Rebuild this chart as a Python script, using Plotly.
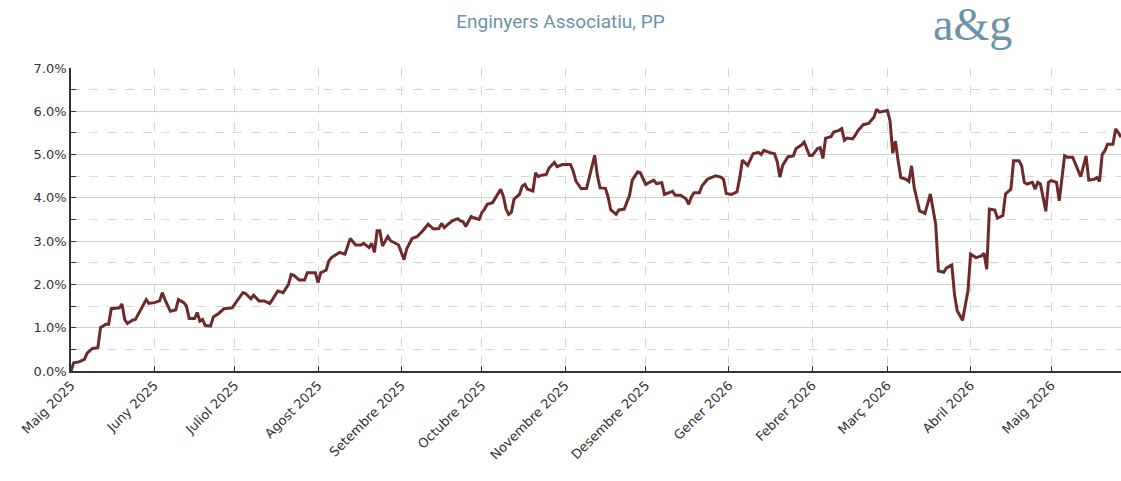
import pandas as pd
import plotly.graph_objects as go

# Series: days since 1 May 2025 and cumulative return (%)
start_date = "2025-05-01"
day_offset = [
    0, 1, 3, 5, 6, 8, 10, 11, 13, 14, 15, 18, 19, 20, 21, 23, 24, 26, 28, 29,
    31, 33, 34, 35, 37, 39, 40, 42, 43, 44, 46, 47, 48, 49, 50, 52, 53, 55, 57, 60,
    62, 64, 65, 67, 68, 70, 72, 74, 75, 77, 79, 81, 82, 83, 85, 87, 88, 90, 91, 92,
    93, 95, 96, 97, 100, 102, 103, 104, 106, 108, 109, 111, 112, 113, 114, 115, 116, 118, 119, 121,
    122, 124, 125, 127, 129, 131, 133, 135, 137, 138, 139, 140, 142, 144, 145, 146, 147, 149, 150, 152,
    153, 154, 155, 157, 158, 160, 161, 162, 163, 164, 165, 167, 168, 169, 170, 172, 173, 174, 175, 177,
    178, 180, 181, 183, 186, 187, 188, 190, 192, 194, 195, 196, 197, 199, 200, 201, 203, 204, 206, 208,
    209, 211, 212, 214, 216, 217, 218, 220, 221, 222, 224, 225, 227, 229, 230, 231, 232, 234, 235, 237,
    238, 240, 242, 243, 244, 246, 248, 249, 250, 252, 254, 256, 257, 258, 260, 262, 263, 264, 265, 267,
    269, 270, 272, 273, 275, 276, 278, 279, 280, 281, 283, 284, 286, 287, 288, 289, 291, 292, 293, 295,
    297, 299, 300, 301, 304, 305, 306, 307, 308, 309, 311, 312, 313, 314, 316, 318, 319, 320, 322, 323,
    325, 326, 328, 329, 330, 331, 332, 334, 335, 337, 339, 340, 341, 342, 344, 345, 347, 348, 350, 351,
    353, 354, 355, 356, 358, 359, 360, 361, 363, 364, 365, 367, 368, 370, 371, 373, 375, 376, 378, 379,
    381, 382, 383, 384, 385, 386, 388, 389, 390, 391,
]
return_pct = [
    0.00, 0.19, 0.21, 0.27, 0.41, 0.52, 0.54, 1.00, 1.08, 1.08, 1.44, 1.46, 1.55, 1.19, 1.10, 1.18, 1.19, 1.42, 1.65, 1.56,
    1.58, 1.62, 1.81, 1.65, 1.38, 1.41, 1.65, 1.58, 1.50, 1.21, 1.21, 1.35, 1.15, 1.19, 1.05, 1.04, 1.25, 1.33, 1.44, 1.46,
    1.65, 1.81, 1.79, 1.67, 1.75, 1.62, 1.62, 1.56, 1.65, 1.85, 1.81, 2.00, 2.23, 2.21, 2.10, 2.10, 2.27, 2.28, 2.27, 2.04,
    2.27, 2.33, 2.54, 2.62, 2.74, 2.70, 2.89, 3.06, 2.91, 2.91, 2.95, 2.85, 2.95, 2.74, 3.24, 3.24, 2.89, 3.11, 3.01, 2.93,
    2.91, 2.57, 2.82, 3.06, 3.11, 3.24, 3.39, 3.28, 3.29, 3.41, 3.31, 3.37, 3.47, 3.52, 3.47, 3.45, 3.34, 3.57, 3.54, 3.50,
    3.66, 3.74, 3.85, 3.89, 4.00, 4.20, 4.04, 3.74, 3.62, 3.67, 3.97, 4.08, 4.27, 4.31, 4.20, 4.16, 4.58, 4.49, 4.52, 4.54,
    4.69, 4.82, 4.72, 4.77, 4.77, 4.62, 4.39, 4.21, 4.22, 4.75, 4.98, 4.52, 4.23, 4.22, 4.02, 3.72, 3.62, 3.72, 3.74, 4.06,
    4.41, 4.60, 4.58, 4.31, 4.37, 4.41, 4.33, 4.35, 4.08, 4.10, 4.15, 4.06, 4.06, 3.98, 3.85, 4.02, 4.12, 4.12, 4.28, 4.43,
    4.46, 4.51, 4.48, 4.43, 4.10, 4.08, 4.14, 4.45, 4.87, 4.75, 5.02, 5.05, 5.00, 5.10, 5.05, 5.02, 4.83, 4.48, 4.75, 4.95,
    4.97, 5.14, 5.22, 5.29, 4.98, 4.98, 5.14, 5.16, 4.91, 5.38, 5.41, 5.52, 5.56, 5.60, 5.33, 5.38, 5.36, 5.44, 5.55, 5.69,
    5.72, 5.86, 6.05, 5.98, 6.02, 5.78, 5.03, 5.31, 4.86, 4.47, 4.43, 4.38, 4.74, 4.24, 3.70, 3.64, 3.86, 4.09, 3.39, 2.31,
    2.28, 2.38, 2.45, 1.77, 1.39, 1.27, 1.17, 1.85, 2.70, 2.62, 2.66, 2.72, 2.35, 3.74, 3.72, 3.53, 3.59, 4.09, 4.20, 4.86,
    4.86, 4.74, 4.36, 4.32, 4.36, 4.20, 4.36, 4.32, 3.69, 4.36, 4.40, 4.36, 3.93, 4.97, 4.94, 4.94, 4.63, 4.49, 4.97, 4.41,
    4.43, 4.47, 4.38, 5.00, 5.09, 5.24, 5.24, 5.59, 5.51, 5.40,
]

month_ticks = ["2025-05-01", "2025-06-01", "2025-07-01", "2025-08-01", "2025-09-01", "2025-10-01",
               "2025-11-01", "2025-12-01", "2026-01-01", "2026-02-01", "2026-03-01", "2026-04-01",
               "2026-05-01"]
month_labels = ["Maig 2025", "Juny 2025", "Juliol 2025", "Agost 2025", "Setembre 2025", "Octubre 2025",
                "Novembre 2025", "Desembre 2025", "Gener 2026", "Febrer 2026", "Març 2026", "Abril 2026",
                "Maig 2026"]
end_date = "2026-05-27"
title_text = "Enginyers Associatiu, PP"
logo_text = "a&g"

dates = pd.to_datetime(start_date) + pd.to_timedelta(day_offset, unit="D")

fig = go.Figure()
fig.add_trace(go.Scatter(
    x=dates, y=return_pct, mode="lines",
    line=dict(color="#6e2a2a", width=3),
    hoverinfo="skip", showlegend=False,
))

fig.update_layout(
    width=1121, height=481,
    margin=dict(l=71, r=0, t=68, b=110, autoexpand=False),
    paper_bgcolor="white", plot_bgcolor="white",
    font=dict(family="DejaVu Sans", size=13, color="#333333"),
    title=dict(text=title_text, x=0.5, xanchor="center", y=0.955, yanchor="middle",
               yref="container",
               font=dict(family="Roboto", size=19, color="#6a93a8")),
    annotations=[dict(
        text=logo_text, xref="paper", yref="paper", x=0.859, y=1.145,
        xanchor="center", yanchor="middle", showarrow=False,
        font=dict(family="Liberation Serif", size=46, color="#6a93a8"),
    )],
)

fig.update_xaxes(
    type="date", range=[start_date, end_date], automargin=False,
    tickmode="array", tickvals=month_ticks, ticktext=month_labels,
    tickangle=-45, ticks="inside", ticklen=5, tickcolor="#333333",
    showline=True, linecolor="#333333", linewidth=1.5,
    showgrid=True, gridcolor="#d6d6d6", griddash="dash", gridwidth=1,
    tickfont=dict(family="DejaVu Sans", size=13, color="#333333"),
    zeroline=False,
)
fig.update_yaxes(
    range=[0, 7], dtick=1, tick0=0, automargin=False,
    tickformat=".1f", ticksuffix="%",
    ticks="inside", ticklen=5, tickcolor="#333333",
    showline=True, linecolor="#333333", linewidth=1.5,
    showgrid=True, gridcolor="#d0d0d0", gridwidth=1.2,
    minor=dict(dtick=0.5, showgrid=True, gridcolor="#d8d8d8", griddash="dash",
               ticks="inside", ticklen=5, tickcolor="#333333"),
    tickfont=dict(family="DejaVu Sans", size=13, color="#333333"),
    zeroline=False,
)

fig.write_html("out.html", config={"displayModeBar": False},
               post_script="document.body.style.margin='0';")
